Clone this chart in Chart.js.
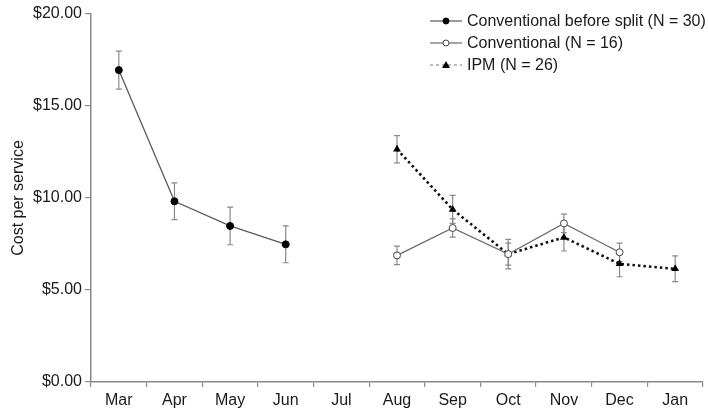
<!DOCTYPE html>
<html>
<head>
<meta charset="utf-8">
<script src="https://cdn.jsdelivr.net/npm/chart.js@4/dist/chart.umd.min.js"></script>
<style>
html, body { margin: 0; padding: 0; background: #fff; }
#wrap { width: 708px; height: 414px; }
</style>
</head>
<body>
<div id="wrap"><canvas id="costChart" width="708" height="414"></canvas></div>
<script>
// Months on the x axis
const months = ['Mar', 'Apr', 'May', 'Jun', 'Jul', 'Aug', 'Sep', 'Oct', 'Nov', 'Dec', 'Jan'];

// Mean cost per service (null = no data)
const beforeSplit = [16.95, 9.82, 8.48, 7.48, null, null, null, null, null, null, null];
const conventional = [null, null, null, null, null, 6.88, 8.37, 6.95, 8.62, 7.05, null];
const ipm = [null, null, null, null, null, 12.65, 9.38, 6.95, 7.86, 6.42, 6.15];

// Half-width of the error bars
const beforeSplitErr = [1.03, 1.0, 1.02, 1.0, null, null, null, null, null, null, null];
const conventionalErr = [null, null, null, null, null, 0.5, 0.5, 0.8, 0.5, 0.5, null];
const ipmErr = [null, null, null, null, null, 0.74, 0.76, 0.6, 0.74, 0.7, 0.7];

const seriesLabels = ['Conventional before split (N = 30)', 'Conventional (N = 16)', 'IPM (N = 26)'];
const yTicks = [0, 5, 10, 15, 20];

const FONT = "'Liberation Sans', Arial, Helvetica, sans-serif";

// Draws the vertical error bars behind the points
const errorBarPlugin = {
    id: 'errorBars',
    beforeDatasetsDraw(chart) {
        const ctx = chart.ctx;
        const yScale = chart.scales.y;
        chart.data.datasets.forEach((ds, i) => {
            const meta = chart.getDatasetMeta(i);
            ds.errors.forEach((err, j) => {
                if (err == null || ds.data[j] == null) return;
                const x = meta.data[j].x;
                const top = yScale.getPixelForValue(ds.data[j] + err);
                const bottom = yScale.getPixelForValue(ds.data[j] - err);
                ctx.save();
                ctx.strokeStyle = '#8a8a8a';
                ctx.lineWidth = 1.2;
                ctx.beginPath();
                ctx.moveTo(x, top);
                ctx.lineTo(x, bottom);
                ctx.moveTo(x - 3, top);
                ctx.lineTo(x + 3, top);
                ctx.moveTo(x - 3, bottom);
                ctx.lineTo(x + 3, bottom);
                ctx.stroke();
                ctx.restore();
            });
        });
    }
};

// Legend with a line sample and marker, like the original figure
const legendPlugin = {
    id: 'lineLegend',
    afterDraw(chart) {
        const ctx = chart.ctx;
        const rows = [21, 43, 65];
        chart.data.datasets.forEach((ds, i) => {
            const y = rows[i];
            ctx.save();
            ctx.strokeStyle = i === 2 ? '#777' : ds.borderColor;
            ctx.lineWidth = i === 2 ? 1 : 1.2;
            ctx.setLineDash(i === 2 ? [3, 3] : []);
            ctx.beginPath();
            ctx.moveTo(430, y);
            ctx.lineTo(462, y);
            ctx.stroke();
            ctx.setLineDash([]);

            ctx.fillStyle = ds.pointBackgroundColor;
            ctx.strokeStyle = ds.pointBorderColor;
            ctx.lineWidth = 1;
            if (ds.pointStyle === 'triangle') {
                ctx.beginPath();
                ctx.moveTo(446, y - 4);
                ctx.lineTo(450, y + 3);
                ctx.lineTo(442, y + 3);
                ctx.closePath();
                ctx.fill();
            } else {
                ctx.beginPath();
                ctx.arc(446, y, 3, 0, Math.PI * 2);
                ctx.fill();
                ctx.stroke();
            }

            ctx.fillStyle = '#1a1a1a';
            ctx.font = '16px ' + FONT;
            ctx.textBaseline = 'middle';
            ctx.textAlign = 'left';
            ctx.fillText(ds.label, 467, y + 1);
            ctx.restore();
        });
    }
};

const ctx = document.getElementById('costChart').getContext('2d');
new Chart(ctx, {
    type: 'line',
    data: {
        labels: months,
        datasets: [
            {
                label: seriesLabels[0],
                data: beforeSplit,
                errors: beforeSplitErr,
                borderColor: '#5a5a5a',
                borderWidth: 1.3,
                pointStyle: 'circle',
                pointRadius: 3.5,
                pointBackgroundColor: '#000',
                pointBorderColor: '#000',
                pointBorderWidth: 1
            },
            {
                label: seriesLabels[1],
                data: conventional,
                errors: conventionalErr,
                borderColor: '#6a6a6a',
                borderWidth: 1.3,
                pointStyle: 'circle',
                pointRadius: 3.5,
                pointBackgroundColor: '#fff',
                pointBorderColor: '#444',
                pointBorderWidth: 1
            },
            {
                label: seriesLabels[2],
                data: ipm,
                errors: ipmErr,
                borderColor: '#111',
                borderWidth: 2.6,
                borderDash: [2.5, 3],
                pointStyle: 'triangle',
                pointRadius: 4.5,
                pointBackgroundColor: '#000',
                pointBorderColor: '#000',
                pointBorderWidth: 0
            }
        ]
    },
    options: {
        responsive: false,
        animation: false,
        devicePixelRatio: 1,
        spanGaps: false,
        layout: { padding: { top: 14, right: 0, left: 0, bottom: 0 } },
        plugins: {
            legend: { display: false },
            tooltip: { enabled: false }
        },
        scales: {
            x: {
                type: 'category',
                offset: true,
                grid: {
                    offset: true,
                    drawOnChartArea: false,
                    drawTicks: true,
                    tickLength: 5,
                    color: '#8a8a8a',
                    lineWidth: 1.2
                },
                border: { color: '#8a8a8a', width: 1.5 },
                ticks: {
                    color: '#1a1a1a',
                    padding: 4,
                    maxRotation: 0,
                    font: { family: FONT, size: 16 }
                },
                afterFit(scale) { scale.height = 32; }
            },
            y: {
                min: 0,
                max: 20,
                afterBuildTicks(scale) {
                    scale.ticks = yTicks.map(v => ({ value: v }));
                },
                grid: {
                    drawOnChartArea: false,
                    drawTicks: true,
                    tickLength: 6,
                    color: '#8a8a8a',
                    lineWidth: 1.2
                },
                border: { color: '#8a8a8a', width: 1.5 },
                ticks: {
                    color: '#1a1a1a',
                    padding: 3,
                    font: { family: FONT, size: 16 },
                    callback: v => '$' + Number(v).toFixed(2)
                },
                title: {
                    display: true,
                    text: 'Cost per service',
                    color: '#1a1a1a',
                    padding: { top: 9, bottom: 0 },
                    font: { family: FONT, size: 16 }
                },
                afterFit(scale) { scale.width = 91; }
            }
        }
    },
    plugins: [errorBarPlugin, legendPlugin]
});
</script>
</body>
</html>
